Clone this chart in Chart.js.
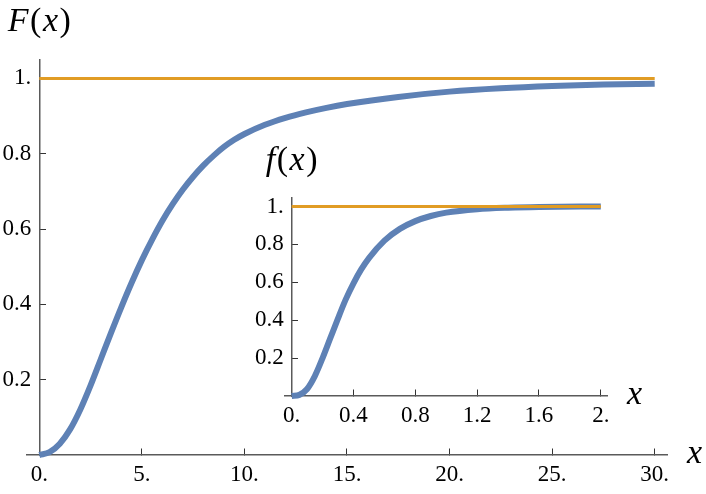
<!DOCTYPE html>
<html>
<head>
<meta charset="utf-8">
<script src="https://cdn.jsdelivr.net/npm/chart.js@4.4.0/dist/chart.umd.min.js"></script>
<style>
	html, body { margin: 0; padding: 0; background: #fff; }
	#wrap { position: relative; width: 706px; height: 494px; }
	#wrap canvas { position: absolute; left: 0; top: 0; }
</style>
</head>
<body>
<div id="wrap">
	<canvas id="main" width="706" height="494"></canvas>
	<canvas id="inset" width="706" height="494"></canvas>
</div>
<script>
// main plot, F(x)
const mainX = [0, 0.5, 1, 1.5, 2, 2.5, 3, 3.5, 4, 4.5, 5, 5.5, 6, 6.5, 7, 7.5, 8, 8.5, 9, 9.5, 10, 11, 12, 13, 14, 15, 17.5, 20, 22.5, 25, 27.5, 30];
const mainF = [0, 0.0075, 0.03, 0.068, 0.121, 0.185, 0.255, 0.325, 0.393, 0.4575, 0.5175, 0.572, 0.622, 0.666, 0.705, 0.739, 0.769, 0.795, 0.818, 0.837, 0.8525, 0.877, 0.8955, 0.91, 0.922, 0.932, 0.951, 0.965, 0.974, 0.98, 0.984, 0.986];

// inset plot, f(x)
const insetX = [0, 0.05, 0.1, 0.15, 0.2, 0.25, 0.3, 0.35, 0.4, 0.45, 0.5, 0.6, 0.7, 0.8, 0.9, 1, 1.2, 1.4, 1.6, 2];
const insetF = [0, 0.006, 0.037, 0.105, 0.2, 0.305, 0.41, 0.51, 0.595, 0.668, 0.728, 0.82, 0.882, 0.923, 0.95, 0.968, 0.986, 0.994, 0.998, 1];

const limitLevel = 1;

const mainXTicks = [0, 5, 10, 15, 20, 25, 30];
const mainXLabels = ['0.', '5.', '10.', '15.', '20.', '25.', '30.'];
const mainYTicks = [0.2, 0.4, 0.6, 0.8, 1];
const mainYLabels = ['0.2', '0.4', '0.6', '0.8', '1.'];
const insetXTicks = [0, 0.4, 0.8, 1.2, 1.6, 2];
const insetXLabels = ['0.', '0.4', '0.8', '1.2', '1.6', '2.'];
const insetYTicks = [0.2, 0.4, 0.6, 0.8, 1];
const insetYLabels = ['0.2', '0.4', '0.6', '0.8', '1.'];

const blue = '#5e81b5';
const orange = '#e19c24';
const axisGray = '#5a5a5a';
const serif = '"Liberation Serif", "Times New Roman", serif';

Chart.defaults.font.family = serif;
Chart.defaults.font.size = 23;
Chart.defaults.color = '#000';

// the y axis sits at x = 0, chart.js puts its labels right on the line, so move them left a bit
const yLabelGap = {
	id: 'yLabelGap',
	beforeDraw(chart, args, opts) {
		chart.scales.y.getLabelItems().forEach((item) => {
			item.options.translation[0] -= opts.gap;
		});
	},
};

// draws "F(x)" on top of the y axis and "x" after the x axis
const axisTitles = {
	id: 'axisTitles',
	afterDraw(chart, args, opts) {
		const { ctx, scales: { x, y } } = chart;
		const x0 = x.getPixelForValue(0);
		const y0 = y.getPixelForValue(0);
		const italic = `italic 34px ${serif}`;
		const upright = `34px ${serif}`;
		const parts = [[opts.fn, italic], ['(', upright], ['x', italic], [')', upright]];
		const space = 1.5;
		ctx.save();
		ctx.fillStyle = '#000';
		ctx.textBaseline = 'alphabetic';
		ctx.textAlign = 'left';
		let total = 0;
		parts.forEach(([t, f]) => { ctx.font = f; total += ctx.measureText(t).width + space; });
		let cx = x0 - (total - space) / 2;
		const base = y.top - opts.gap;
		parts.forEach(([t, f]) => {
			ctx.font = f;
			ctx.fillText(t, cx, base);
			cx += ctx.measureText(t).width + space;
		});
		ctx.font = italic;
		ctx.fillText('x', x.right + 20, y0 + 8);
		ctx.restore();
	},
};

function axisOptions(min, max, ticks, labels, position, padding) {
	return {
		type: 'linear',
		min: min,
		max: max,
		position: position,
		afterBuildTicks: (scale) => {
			scale.ticks = ticks.map((v) => ({ value: v }));
		},
		ticks: {
			padding: padding,
			autoSkip: false,
			maxRotation: 0,
			callback: (value, index) => labels[index],
		},
		grid: {
			drawOnChartArea: false,
			tickLength: -7,
			tickColor: '#333',
			tickWidth: 1,
		},
		border: { color: axisGray, width: 1.5 },
	};
}

function makeChart(id, xs, ys, xEnd, padding, scales, fn, titleGap) {
	return new Chart(document.getElementById(id), {
		type: 'line',
		data: {
			datasets: [
				{
					data: [{ x: 0, y: limitLevel }, { x: xEnd, y: limitLevel }],
					borderColor: orange,
					borderWidth: 3,
					pointRadius: 0,
					clip: false,
				},
				{
					data: xs.map((x, i) => ({ x: x, y: ys[i] })),
					borderColor: blue,
					borderWidth: 6,
					pointRadius: 0,
					cubicInterpolationMode: 'monotone',
					clip: false,
				},
			],
		},
		options: {
			responsive: false,
			animation: false,
			devicePixelRatio: 1,
			layout: { padding: padding },
			plugins: {
				legend: { display: false },
				tooltip: { enabled: false },
				axisTitles: { fn: fn, gap: titleGap },
				yLabelGap: { gap: 8 },
			},
			scales: scales,
		},
		plugins: [yLabelGap, axisTitles],
	});
}

makeChart('main', mainX, mainF, 30,
	{ left: 27, right: 39, top: 60, bottom: 39 },
	{
		x: axisOptions(-0.6, 30.6, mainXTicks, mainXLabels, { y: 0 }, 13),
		y: axisOptions(0, 1.049, mainYTicks, mainYLabels, { x: 0 }, 0),
	},
	'F', 29);

makeChart('inset', insetX, insetF, 2,
	{ left: 285, right: 99, top: 198, bottom: 98 },
	{
		x: axisOptions(-0.043, 2.04, insetXTicks, insetXLabels, { y: 0 }, 13),
		y: axisOptions(0, 1.045, insetYTicks, insetYLabels, { x: 0 }, 0),
	},
	'f', 28);
</script>
</body>
</html>
